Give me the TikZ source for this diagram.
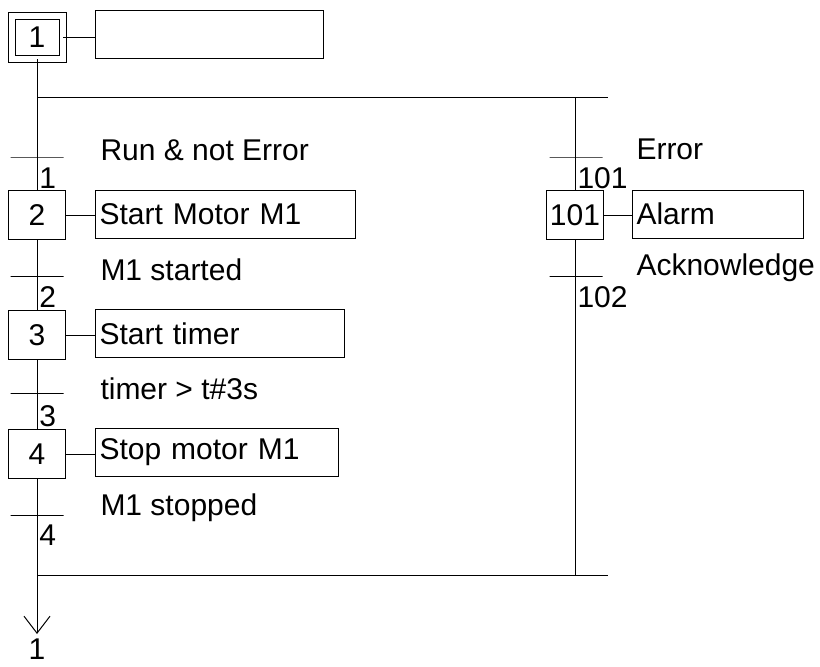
\documentclass[tikz,border=0pt]{standalone}
\usepackage{fontspec}
\setmainfont{Liberation Sans}
\usetikzlibrary{arrows.meta,positioning}

\begin{document}
\begin{tikzpicture}[x=0.5pt,y=-0.5pt,font=\fontsize{15}{18}\selectfont,
  line width=0.5pt,
  stepbox/.style={draw,minimum width=28.5pt,minimum height=24.5pt,inner sep=0pt},
  initbox/.style={draw,double,double distance=3pt,minimum width=25.5pt,
                  minimum height=21.5pt,inner sep=0pt},
  actbox/.style={draw,anchor=west,minimum height=24pt,inner sep=2pt,align=left},
  trans/.style={draw,minimum width=26.5pt,minimum height=0pt,inner sep=0pt,outer sep=0pt},
  cond/.style={anchor=west,inner sep=0pt},
  tnum/.style={anchor=west,inner sep=0pt},
  arr/.style={-{Straight Barb[length=8.5pt,width=13pt]}}]
\useasboundingbox (0,0) rectangle (820,666);
% steps
\node[initbox] (s1) at (37,37) {1};
\node[stepbox] (s2) at (37,215) {2};
\node[stepbox] (s3) at (37,335) {3};
\node[stepbox] (s4) at (37,454) {4};
\node[stepbox] (s101) at (575,215) {101};
% actions
\node[actbox,text width=110pt] (a1) at (95,34.5) {};
\node[actbox,text width=126pt] (a2) at (95,214) {Start Motor M1};
\node[actbox,text width=120.5pt] (a3) at (95,333.5) {Start timer};
\node[actbox,text width=117.5pt] (a4) at (95,452.5) {Stop motor M1};
\node[actbox,text width=81.5pt] (a101) at (632,214) {Alarm};
% transitions
\node[trans] (t1) at (37,157) {};
\node[trans] (t2) at (37,276) {};
\node[trans] (t3) at (37,393) {};
\node[trans] (t4) at (37,515) {};
\node[trans] (t101) at (576,157) {};
\node[trans] (t102) at (576,276) {};
\node[cond] (c1) at (100,150) {Run \& not Error};
\node[cond] (c2) at (100,270) {M1 started};
\node[cond] (c3) at (100,389) {timer > t\#3s};
\node[cond] (c4) at (100,508) {M1 stopped};
\node[cond] (c101) at (636,149) {Error};
\node[cond] (c102) at (636,268) {Acknowledge};
\node[tnum] (n1) at (39,178) {1};
\node[tnum] (n2) at (39,297) {2};
\node[tnum] (n3) at (39,416) {3};
\node[tnum] (n4) at (39,535) {4};
\node[tnum] (n101) at (577,178) {101};
\node[tnum] (n102) at (577,297) {102};
% divergence / convergence
\coordinate (dl) at (37,97);
\coordinate (dr) at (608,97);
\coordinate (br) at (575,97);
\coordinate (cl) at (37,575);
\coordinate (cr) at (608,575);
\coordinate (jr) at (575,575);
\coordinate (end) at (37,634);
\node[inner sep=0pt] (j1) at (37,649) {1};
\draw (dl) -- (dr);
\draw (cl) -- (cr);
\draw (s1) -- (s2) -- (s3) -- (s4);
\draw[arr] (s4) -- (end);
\draw (br) -- (s101) -- (jr);
\draw (s1.east) -- (s1.east -| a1.west);
\draw (s2.east) -- (s2.east -| a2.west);
\draw (s3.east) -- (s3.east -| a3.west);
\draw (s4.east) -- (s4.east -| a4.west);
\draw (s101.east) -- (s101.east -| a101.west);
\end{tikzpicture}
\end{document}
